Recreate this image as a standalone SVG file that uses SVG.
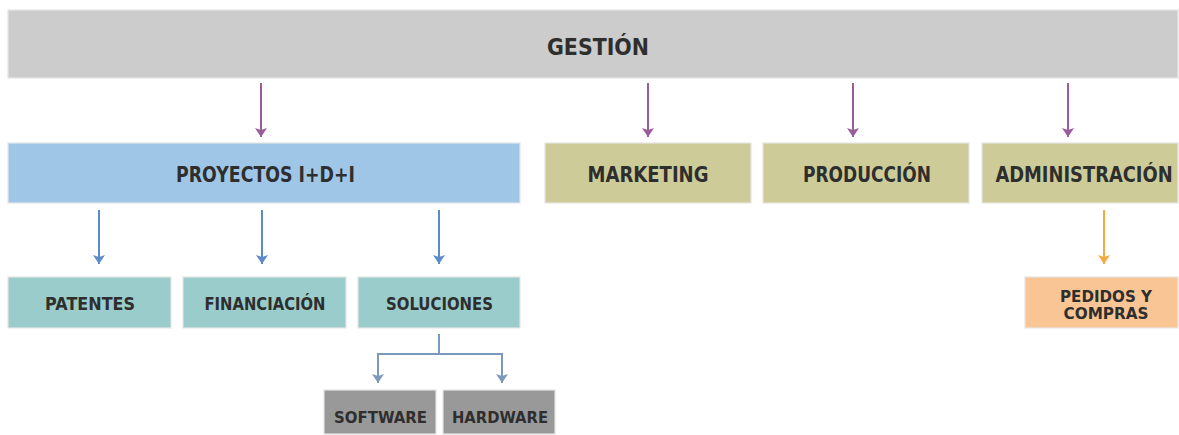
<svg xmlns="http://www.w3.org/2000/svg" width="1179" height="435" viewBox="0 0 1179 435">
<style>
  .box { stroke: #e4e4e4; stroke-width: 1.2; }
  .gray { fill: #cccccc; }
  .blue { fill: #a0c6e7; }
  .olive { fill: #cdcc99; }
  .teal { fill: #99cccb; }
  .peach { fill: #fac595; }
  .dark { fill: #999999; }
  .t { font-family: "DejaVu Sans", "Liberation Sans", sans-serif; font-weight: bold; fill: #2e2e2e; text-anchor: middle; }
  .c { fill: none; stroke-width: 2; }
  .purple { stroke: #9b5c9c; }
  .bl { stroke: #5b8bc9; }
  .gb { stroke: #7b9abb; }
  .or { stroke: #f5a942; }
</style>
<defs>
  <marker id="ap" markerUnits="userSpaceOnUse" viewBox="0 0 9 12" markerWidth="9" markerHeight="12" refX="9" refY="6" orient="auto"><path d="M0,0 L9,6 L0,12 L2,6 z" fill="#9b5c9c"/></marker>
  <marker id="ab" markerUnits="userSpaceOnUse" viewBox="0 0 9 12" markerWidth="9" markerHeight="12" refX="9" refY="6" orient="auto"><path d="M0,0 L9,6 L0,12 L2,6 z" fill="#5b8bc9"/></marker>
  <marker id="ag" markerUnits="userSpaceOnUse" viewBox="0 0 9 12" markerWidth="9" markerHeight="12" refX="9" refY="6" orient="auto"><path d="M0,0 L9,6 L0,12 L2,6 z" fill="#7b9abb"/></marker>
  <marker id="ao" markerUnits="userSpaceOnUse" viewBox="0 0 9 12" markerWidth="9" markerHeight="12" refX="9" refY="6" orient="auto"><path d="M0,0 L9,6 L0,12 L2,6 z" fill="#f5a942"/></marker>
</defs>

<g id="gestion">
  <rect class="box gray" x="8" y="10" width="1170" height="68"/>
  <text class="t" x="598" y="55" font-size="23" textLength="102" lengthAdjust="spacingAndGlyphs">GESTIÓN</text>
</g>
<g id="proyectos">
  <rect class="box blue" x="8" y="143" width="512" height="60"/>
  <text class="t" x="265.5" y="182" font-size="20.5" textLength="179" lengthAdjust="spacingAndGlyphs">PROYECTOS I+D+I</text>
</g>
<g id="marketing">
  <rect class="box olive" x="545" y="143" width="206" height="60"/>
  <text class="t" x="648" y="182" font-size="20.5" textLength="121" lengthAdjust="spacingAndGlyphs">MARKETING</text>
</g>
<g id="produccion">
  <rect class="box olive" x="763" y="143" width="206" height="60"/>
  <text class="t" x="867" y="182" font-size="20.5" textLength="128" lengthAdjust="spacingAndGlyphs">PRODUCCIÓN</text>
</g>
<g id="administracion">
  <rect class="box olive" x="982" y="143" width="196" height="60"/>
  <text class="t" transform="translate(1084,182) scale(0.872,1)" x="0" y="0" font-size="20.5">ADMINISTRACIÓN</text>
</g>
<g id="patentes">
  <rect class="box teal" x="8" y="277" width="163" height="51"/>
  <text class="t" x="90" y="310" font-size="17.5" textLength="90" lengthAdjust="spacingAndGlyphs">PATENTES</text>
</g>
<g id="financiacion">
  <rect class="box teal" x="183" y="277" width="163" height="51"/>
  <text class="t" x="265" y="310" font-size="17.5" textLength="121" lengthAdjust="spacingAndGlyphs">FINANCIACIÓN</text>
</g>
<g id="soluciones">
  <rect class="box teal" x="358" y="277" width="162" height="51"/>
  <text class="t" x="439.5" y="310" font-size="17.5" textLength="107" lengthAdjust="spacingAndGlyphs">SOLUCIONES</text>
</g>
<g id="pedidos">
  <rect class="box peach" x="1025" y="277" width="153" height="51"/>
  <text class="t" x="1106" y="302" font-size="16.5" textLength="92" lengthAdjust="spacingAndGlyphs">PEDIDOS Y</text>
  <text class="t" x="1106" y="319" font-size="16.5" textLength="85" lengthAdjust="spacingAndGlyphs">COMPRAS</text>
</g>
<g id="software">
  <rect class="box dark" x="324" y="390" width="112" height="44"/>
  <text class="t" x="380.5" y="423" font-size="15.5" textLength="93" lengthAdjust="spacingAndGlyphs">SOFTWARE</text>
</g>
<g id="hardware">
  <rect class="box dark" x="443" y="390" width="112" height="44"/>
  <text class="t" x="500" y="423" font-size="15.5" textLength="96" lengthAdjust="spacingAndGlyphs">HARDWARE</text>
</g>

<g id="connectors">
  <line class="c purple" x1="261" y1="83" x2="261" y2="137" marker-end="url(#ap)"/>
  <line class="c purple" x1="648" y1="83" x2="648" y2="137" marker-end="url(#ap)"/>
  <line class="c purple" x1="853" y1="83" x2="853" y2="137" marker-end="url(#ap)"/>
  <line class="c purple" x1="1068" y1="83" x2="1068" y2="137" marker-end="url(#ap)"/>
  <line class="c bl" x1="99" y1="210" x2="99" y2="264" marker-end="url(#ab)"/>
  <line class="c bl" x1="262" y1="210" x2="262" y2="264" marker-end="url(#ab)"/>
  <line class="c bl" x1="439" y1="210" x2="439" y2="264" marker-end="url(#ab)"/>
  <line class="c or" x1="1104" y1="210" x2="1104" y2="264" marker-end="url(#ao)"/>
  <line class="c gb" x1="439" y1="334" x2="439" y2="354"/>
  <polyline class="c gb" points="439,354 378,354 378,383" marker-end="url(#ag)"/>
  <polyline class="c gb" points="439,354 502,354 502,383" marker-end="url(#ag)"/>
</g>
</svg>
